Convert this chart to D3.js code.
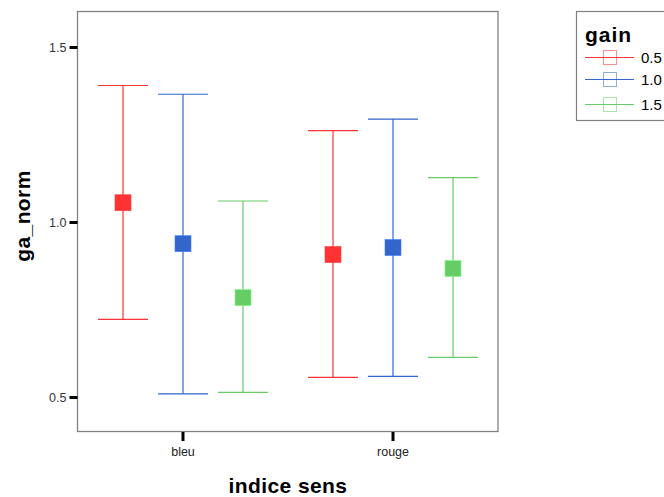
<!DOCTYPE html>
<html><head><meta charset="utf-8">
<script src="https://cdn.jsdelivr.net/npm/d3@7"></script>
<style>body{margin:0;background:#fff;}svg{display:block;font-family:Arial,"Liberation Sans",sans-serif;}</style>
</head><body>
<svg id="c" width="664" height="497"></svg>
<script>
const categories = ["bleu", "rouge"];
const gains = ["0.5", "1.0", "1.5"];
const colors = ["#ff3333", "#3366cc", "#66cc66"];
const means = [[1.055, 0.938, 0.784], [0.907, 0.927, 0.867]];
const lower = [[0.722, 0.509, 0.513], [0.556, 0.559, 0.613]];
const upper = [[1.390, 1.365, 1.060], [1.261, 1.294, 1.127]];
const yTicks = [0.5, 1.0, 1.5];

const svg = d3.select("#c");
const L = 78, R = 498, T = 11.5, B = 431.5;
const x = d3.scaleBand().domain(categories).range([L, R]);
const xs = d3.scalePoint().domain(gains).range([-60, 60]);
const yv = d3.scaleLinear().domain([0.5, 1.5]).range([397, 47]);

svg.append("rect").attr("x", L - 0.5).attr("y", T).attr("width", R - L + 0.5).attr("height", B - T)
  .attr("fill", "none").attr("stroke", "#808080").attr("stroke-width", 1.3);

// y axis
const ya = svg.append("g").attr("transform", `translate(${L - 0.5},0)`)
  .call(d3.axisLeft(yv).tickValues(yTicks).tickFormat(d3.format(".1f")).tickSize(8).tickPadding(3));
ya.select(".domain").remove();
ya.selectAll("line").attr("stroke", "#000").attr("stroke-width", 3);
ya.selectAll("text").attr("font-size", 12.5).attr("fill", "#333").attr("font-family", "Arial, 'Liberation Sans', sans-serif");

// x axis
const xa = svg.append("g").attr("transform", `translate(0,${B + 0.5})`)
  .call(d3.axisBottom(x).tickSize(9).tickPadding(6));
xa.select(".domain").remove();
xa.selectAll("line").attr("stroke", "#000").attr("stroke-width", 3);
xa.selectAll("text").attr("font-size", 12.5).attr("fill", "#222").attr("font-family", "Arial, 'Liberation Sans', sans-serif");

// error bars
categories.forEach((c, ci) => {
  gains.forEach((g, gi) => {
    const cx = x(c) + x.bandwidth() / 2 + xs(g);
    const gg = svg.append("g").attr("stroke", colors[gi]).attr("stroke-width", 1.2);
    gg.append("line").attr("x1", cx).attr("x2", cx).attr("y1", yv(upper[ci][gi])).attr("y2", yv(lower[ci][gi]));
    gg.append("line").attr("x1", cx - 25).attr("x2", cx + 25).attr("y1", yv(upper[ci][gi])).attr("y2", yv(upper[ci][gi]));
    gg.append("line").attr("x1", cx - 25).attr("x2", cx + 25).attr("y1", yv(lower[ci][gi])).attr("y2", yv(lower[ci][gi]));
    svg.append("rect").attr("x", cx - 8).attr("y", yv(means[ci][gi]) - 8).attr("width", 16).attr("height", 16)
      .attr("fill", colors[gi]).attr("stroke", d3.color(colors[gi]).brighter(0.6)).attr("stroke-width", 0.6);
  });
});

// axis titles
svg.append("text").attr("x", (L + R) / 2).attr("y", 493).attr("text-anchor", "middle")
  .attr("font-size", 21).attr("letter-spacing", 0.4).attr("font-weight", "bold").attr("fill", "#000").text("indice sens");
svg.append("text").attr("transform", `translate(30,216) rotate(-90)`).attr("text-anchor", "middle")
  .attr("font-size", 21).attr("letter-spacing", 0.4).attr("font-weight", "bold").attr("fill", "#000").text("ga_norm");

// legend
const lg = svg.append("g");
lg.append("rect").attr("x", 576.5).attr("y", 11.5).attr("width", 100).attr("height", 109)
  .attr("fill", "#fff").attr("stroke", "#808080").attr("stroke-width", 1.2);
lg.append("text").attr("x", 585).attr("y", 42).attr("font-size", 21).attr("letter-spacing", 1).attr("font-weight", "bold").attr("fill", "#000").text("gain");
const ly = [57.5, 79.5, 104.5];
gains.forEach((g, gi) => {
  lg.append("line").attr("x1", 585).attr("x2", 634).attr("y1", ly[gi]).attr("y2", ly[gi]).attr("stroke", colors[gi]).attr("stroke-width", 1.2);
  lg.append("rect").attr("x", 603.5).attr("y", ly[gi] - 7).attr("width", 13).attr("height", 14)
    .attr("fill", "none").attr("stroke", colors[gi]).attr("stroke-opacity", 0.55).attr("stroke-width", 1);
  lg.append("text").attr("x", 641).attr("y", ly[gi] + 5).attr("font-size", 15).attr("fill", "#000").text(g);
});
</script>
</body></html>
